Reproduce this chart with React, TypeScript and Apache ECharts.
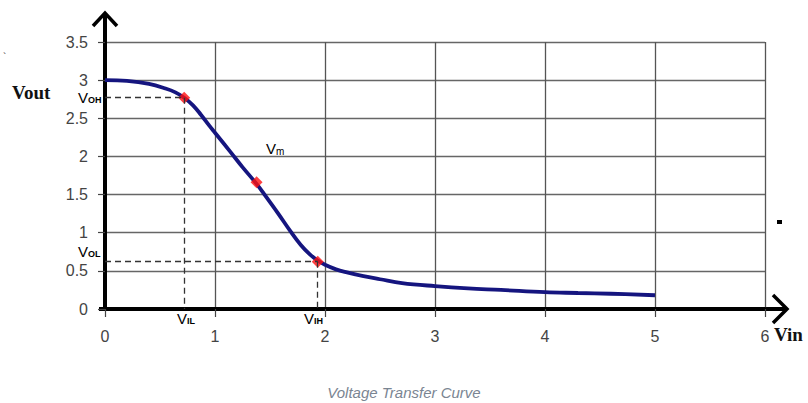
import React, { useEffect, useRef } from "react";
import * as echarts from "echarts";

const vin = [0, 0.2, 0.4, 0.55, 0.64, 0.72, 0.8, 0.87, 0.95, 1.0, 1.14, 1.25, 1.378, 1.45, 1.57, 1.69, 1.78, 1.86, 1.934, 2.0, 2.1, 2.2, 2.35, 2.5, 2.7, 3.0, 3.3, 3.6, 4.0, 4.3, 4.6, 5.0];
const vout = [3.0, 2.99, 2.95, 2.89, 2.84, 2.77, 2.67, 2.55, 2.4, 2.31, 2.06, 1.86, 1.64, 1.5, 1.26, 1.01, 0.84, 0.72, 0.635, 0.58, 0.52, 0.48, 0.43, 0.39, 0.34, 0.3, 0.27, 0.25, 0.22, 0.21, 0.2, 0.18];

const keyVin = [0.72, 1.378, 1.934];
const keyVout = [2.77, 1.66, 0.62];

const xTicks = { min: 0, max: 6, interval: 1 };
const yTicks = { min: 0, max: 3.5, interval: 0.5 };

const titleText = "Voltage Transfer Curve";

export default function App() {
  const ref = useRef<HTMLDivElement>(null);
  useEffect(() => {
    if (!ref.current) return;
    const chart = echarts.init(ref.current, null, { renderer: "svg" });
    const sub = (main: string, s: string) => `{v|${main}}{s|${s}}`;
    const rich = {
      v: { fontSize: 15, fontFamily: "Arial", color: "#333" },
      s: { fontSize: 9, fontFamily: "Arial", color: "#333", fontWeight: "bold", padding: [6, 0, 0, 0] },
    };
    const dash = { type: [6, 4] as any, color: "#333", width: 1.3 };
    chart.setOption({
      animation: false,
      grid: { left: 105, right: 43, top: 42, bottom: 94 },
      xAxis: {
        type: "value",
        min: xTicks.min,
        max: xTicks.max,
        interval: xTicks.interval,
        axisLine: { show: true, onZero: false, lineStyle: { color: "#000", width: 4 } },
        axisTick: { show: true, length: 8, lineStyle: { color: "#444", width: 1.2 } },
        axisLabel: { margin: 19, fontSize: 16, fontFamily: "Arial", color: "#444" },
        splitLine: { show: true, lineStyle: { color: "#555", width: 1.3 } },
      },
      yAxis: {
        type: "value",
        min: yTicks.min,
        max: yTicks.max,
        interval: yTicks.interval,
        axisLine: { show: true, onZero: false, lineStyle: { color: "#000", width: 4 } },
        axisTick: { show: true, length: 7, lineStyle: { color: "#444", width: 1.2 } },
        axisLabel: { margin: 17, fontSize: 16, fontFamily: "Arial", color: "#444" },
        splitLine: { show: true, lineStyle: { color: "#666", width: 1.3 } },
      },
      title: {
        text: titleText,
        left: "center",
        top: 380,
        textStyle: { fontSize: 15, fontStyle: "italic", fontWeight: "normal", fontFamily: "Arial", color: "#7a8592" },
      },
      series: [
        {
          type: "line",
          data: vin.map((x, i) => [x, vout[i]]),
          smooth: 0.4,
          showSymbol: false,
          lineStyle: { color: "#15157f", width: 3.8 },
          z: 3,
          markLine: {
            silent: true,
            symbol: "none",
            label: { show: false },
            lineStyle: dash,
            data: [
              [{ coord: [0, keyVout[0]] }, { coord: [keyVin[0], keyVout[0]] }],
              [{ coord: [keyVin[0], keyVout[0]] }, { coord: [keyVin[0], 0] }],
              [{ coord: [0, keyVout[2]] }, { coord: [keyVin[2], keyVout[2]] }],
              [{ coord: [keyVin[2], keyVout[2]] }, { coord: [keyVin[2], 0] }],
            ],
          },
        },
        {
          type: "scatter",
          data: keyVin.map((x, i) => [x, keyVout[i]]),
          symbol: "diamond",
          symbolSize: 12,
          itemStyle: { color: "#ff1010" },
          z: 4,
        },
      ],
      graphic: [
        { type: "line", shape: { x1: 105, y1: 42, x2: 105, y2: 13 }, style: { stroke: "#000", lineWidth: 4 } },
        { type: "polyline", shape: { points: [[93, 26], [105, 13], [117, 26]] }, style: { stroke: "#000", lineWidth: 3.5, fill: null } },
        { type: "line", shape: { x1: 99, y1: 309, x2: 106, y2: 309 }, style: { stroke: "#000", lineWidth: 4 } },
        { type: "line", shape: { x1: 765, y1: 309, x2: 786, y2: 309 }, style: { stroke: "#000", lineWidth: 4 } },
        { type: "polyline", shape: { points: [[773, 295], [787, 309], [773, 323]] }, style: { stroke: "#000", lineWidth: 3.5, fill: null } },
        { type: "text", x: 12, y: 92, style: { text: "Vout", font: "bold 19px 'Liberation Serif', 'Times New Roman', serif", fill: "#111", verticalAlign: "middle" } },
        { type: "text", x: 774, y: 334, style: { text: "Vin", font: "bold 19px 'Liberation Serif', 'Times New Roman', serif", fill: "#111", verticalAlign: "middle" } },
        { type: "text", x: 78, y: 97, style: { text: sub("V", "OH"), rich, verticalAlign: "middle" } },
        { type: "text", x: 78, y: 251, style: { text: sub("V", "OL"), rich, verticalAlign: "middle" } },
        { type: "text", x: 177, y: 318, style: { text: sub("V", "IL"), rich, verticalAlign: "middle" } },
        { type: "text", x: 304, y: 318, style: { text: sub("V", "IH"), rich, verticalAlign: "middle" } },
        { type: "text", x: 266, y: 148, style: { text: sub("V", "m"), rich: { v: rich.v, s: { ...rich.s, fontWeight: "normal", fontSize: 10 } }, verticalAlign: "middle" } },
        { type: "rect", shape: { x: 777, y: 220, width: 5, height: 4 }, style: { fill: "#000" } },
        { type: "text", x: 3, y: 52, style: { text: "`", font: "10px Arial", fill: "#333" } },
      ],
    });
    return () => chart.dispose();
  }, []);
  return <div ref={ref} style={{ width: 808, height: 403, position: "absolute", left: 0, top: 0 }} />;
}
